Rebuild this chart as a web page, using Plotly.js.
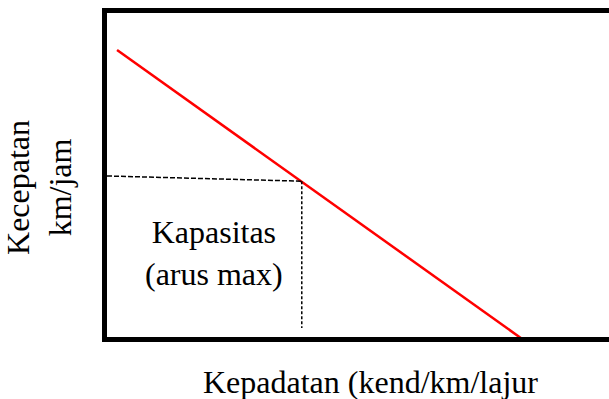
<!DOCTYPE html>
<html>
<head>
<meta charset="utf-8">
<script src="https://cdn.plot.ly/plotly-3.0.1.min.js"></script>
<style>
  html, body {margin:0; padding:0; background:#fff;}
  #chart {width:609px; height:399px;}
</style>
</head>
<body>
<div id="chart"></div>
<script>
// speed-density line (red)
var lineX = [2.0, 83.5];
var lineY = [88.6, -1.5];

// capacity point guides (dashed)
var capHX = [0, 38.8];
var capHY = [49.7, 48.1];
var capVX = [38.8, 38.8];
var capVY = [48.1, 2.8];

// labels
var capLabel = "Kapasitas<br>(arus max)";
var xLabel = "Kepadatan (kend/km/lajur";
var yLabel = "Kecepatan<br>km/jam";

var serif = "Liberation Serif, Times New Roman, serif";

var speedLine = {
    x: lineX,
    y: lineY,
    mode: "lines",
    type: "scatter",
    line: {color: "#ff0000", width: 2.5},
    cliponaxis: false,
    hoverinfo: "skip"
};
var capH = {
    x: capHX,
    y: capHY,
    mode: "lines",
    type: "scatter",
    line: {color: "#000", width: 1.5, dash: "5px,2px"},
    hoverinfo: "skip"
};
var capV = {
    x: capVX,
    y: capVY,
    mode: "lines",
    type: "scatter",
    line: {color: "#000", width: 1.5, dash: "3px,2px"},
    hoverinfo: "skip"
};

var layout = {
    width: 609,
    height: 399,
    margin: {l: 107, r: 0, t: 13, b: 62},
    paper_bgcolor: "#fff",
    plot_bgcolor: "#fff",
    showlegend: false,
    font: {family: serif, color: "#000", size: 30},
    xaxis: {
        range: [0, 100],
        showline: true, mirror: true, linewidth: 5, linecolor: "#000",
        showgrid: false, zeroline: false, showticklabels: false, ticks: "",
        layer: "below traces", fixedrange: true
    },
    yaxis: {
        range: [0, 100],
        showline: true, mirror: false, linewidth: 5, linecolor: "#000",
        showgrid: false, zeroline: false, showticklabels: false, ticks: "",
        layer: "below traces", fixedrange: true
    },
    annotations: [
        {text: capLabel, x: 21.3, y: 25.8, xref: "x", yref: "y",
         xanchor: "center", yanchor: "middle",
         showarrow: false, align: "center", font: {family: serif, size: 32, color: "#000"}},
        {text: xLabel, x: 0.524, y: 0, xref: "paper", yref: "paper", yshift: -45,
         xanchor: "center", yanchor: "middle",
         showarrow: false, font: {family: serif, size: 32, color: "#000"}},
        {text: yLabel, x: -0.1355, y: 0.463, xref: "paper", yref: "paper",
         xanchor: "center", yanchor: "middle",
         textangle: -90, showarrow: false, align: "center",
         font: {family: serif, size: 32, color: "#000"}}
    ]
};

Plotly.newPlot("chart", [speedLine, capH, capV], layout, {displayModeBar: false, staticPlot: true});
</script>
</body>
</html>
